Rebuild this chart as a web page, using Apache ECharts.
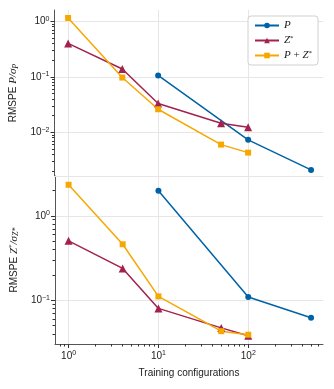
<!DOCTYPE html>
<html lang="en">
  <head>
    <meta charset="UTF-8" />
    <title>RMSPE vs training configurations</title>
    <style>
      html,
      body {
        margin: 0;
        width: 100%;
        height: 100%;
        overflow: hidden;
        background: #fff;
      }
      #main {
        width: 334px;
        height: 389px;
      }
    </style>
  </head>
  <body>
    <div id="main"></div>
    <script src="https://cdn.jsdelivr.net/npm/echarts@6/dist/echarts.min.js"></script>
    <script>
      // training set sizes
      const trainP = [10, 100, 500];
      const trainZ = [1, 4, 10, 50, 100];
      const trainPZ = [1, 4, 10, 50, 100];

      // top panel: RMSPE P / sigma_P
      const topP = [0.106, 0.0073, 0.0021];
      const topZ = [0.4, 0.138, 0.033, 0.0145, 0.0123];
      const topPZ = [1.15, 0.097, 0.026, 0.006, 0.0043];

      // bottom panel: RMSPE Z* / sigma_Z*
      const botP = [1.98, 0.109, 0.062];
      const botZ = [0.505, 0.238, 0.08, 0.047, 0.038];
      const botPZ = [2.33, 0.46, 0.111, 0.043, 0.039];

      const xMajor = [1, 10, 100];
      const xMinor = [0.8, 0.9, 2, 3, 4, 5, 6, 7, 8, 9, 20, 30, 40, 50, 60, 70, 80, 90, 200, 300, 400, 500, 600];
      const topMajor = [0.01, 0.1, 1];
      const topMinor = [0.002, 0.003, 0.004, 0.005, 0.006, 0.007, 0.008, 0.009,
        0.02, 0.03, 0.04, 0.05, 0.06, 0.07, 0.08, 0.09,
        0.2, 0.3, 0.4, 0.5, 0.6, 0.7, 0.8, 0.9];
      const botMajor = [0.1, 1];
      const botMinor = [0.04, 0.05, 0.06, 0.07, 0.08, 0.09,
        0.2, 0.3, 0.4, 0.5, 0.6, 0.7, 0.8, 0.9, 2];

      const names = ["P", "Z*", "P + Z*"];
      const colors = ["#0062a6", "#a3214f", "#f6a800"];
      const symbols = ["circle", "triangle", "rect"];

      const sans = "Liberation Sans";
      const serif = "Liberation Serif";
      const gridColor = "#e6e6e6";
      const axisColor = "#555";

      function pow10(v) {
        const e = Math.round(Math.log10(v));
        return "{b|10}{s|" + (e < 0 ? "\u2212" + -e : e) + "}";
      }
      const powRich = {
        b: { fontSize: 10, fontFamily: sans, color: "#222" },
        s: { fontSize: 7, fontFamily: sans, color: "#222", verticalAlign: "top", padding: [0, 0, 5, 0] },
      };

      function mainY(grid, min, max, ticks, name, nameRich) {
        return {
          type: "log",
          gridIndex: grid,
          position: "left",
          min: min,
          max: max,
          name: name,
          nameLocation: "middle",
          nameGap: 33,
          nameRotate: 90,
          nameTextStyle: { fontSize: 10, fontFamily: sans, color: "#222", rich: nameRich },
          axisLine: { show: true, onZero: false, lineStyle: { color: axisColor, width: 1 } },
          axisTick: { show: true, length: 4, customValues: ticks, lineStyle: { color: "#333" } },
          axisLabel: { customValues: ticks, formatter: pow10, rich: powRich, margin: 5 },
          splitLine: { show: true, lineStyle: { color: gridColor, width: 1 } },
        };
      }
      // second, label-less axis only for the 2..9 minor ticks
      function minorY(grid, min, max, ticks) {
        return {
          type: "log",
          gridIndex: grid,
          position: "left",
          offset: 0,
          min: min,
          max: max,
          axisLine: { show: false, onZero: false },
          axisTick: { show: true, length: 2.5, customValues: ticks, lineStyle: { color: "#333" } },
          axisLabel: { show: false, customValues: ticks },
          splitLine: { show: false },
        };
      }

      const nameRich = {
        t: { fontFamily: sans, fontSize: 10, color: "#222" },
        i: { fontFamily: serif, fontStyle: "italic", fontSize: 11, color: "#222" },
        sub: { fontFamily: serif, fontStyle: "italic", fontSize: 8, color: "#222", verticalAlign: "bottom", padding: [4, 0, 0, 0] },
        sup: { fontFamily: serif, fontSize: 7, color: "#222", verticalAlign: "top" },
      };

      const series = [];
      const sets = [
        [trainP, topP, botP],
        [trainZ, topZ, botZ],
        [trainPZ, topPZ, botPZ],
      ];
      sets.forEach(function (s, k) {
        const style = {
          name: names[k],
          type: "line",
          symbol: symbols[k],
          symbolSize: k === 1 ? 8 : 6,
          lineStyle: { color: colors[k], width: 1.5 },
          itemStyle: { color: colors[k] },
          z: 3,
        };
        series.push(Object.assign({}, style, {
          xAxisIndex: 0,
          yAxisIndex: 0,
          data: s[0].map((x, i) => [x, s[1][i]]),
        }));
        series.push(Object.assign({}, style, {
          xAxisIndex: 1,
          yAxisIndex: 2,
          data: s[0].map((x, i) => [x, s[2][i]]),
        }));
      });

      const option = {
        animation: false,
        backgroundColor: "#fff",
        grid: [
          { left: 53, right: 11, top: 10, height: 166 },
          { left: 53, right: 11, top: 176, height: 168 },
        ],
        legend: {
          data: names,
          orient: "vertical",
          left: 248,
          top: 16,
          padding: [4, 6, 4, 6],
          itemGap: 4,
          itemWidth: 24,
          itemHeight: 7,
          backgroundColor: "#fff",
          borderColor: "#d0d0d0",
          borderWidth: 1,
          borderRadius: 3,
          formatter: function (n) {
            if (n === "P") return "{i|P}";
            if (n === "Z*") return "{i|Z}{s|*}";
            return "{i|P} + {i|Z}{s|*}";
          },
          textStyle: {
            fontSize: 11,
            fontFamily: serif,
            color: "#222",
            rich: {
              i: { fontFamily: serif, fontStyle: "italic", fontSize: 11, color: "#222" },
              s: { fontFamily: serif, fontSize: 7, color: "#222", verticalAlign: "top" },
            },
          },
        },
        xAxis: [
          {
            type: "log",
            gridIndex: 0,
            position: "bottom",
            min: 0.706,
            max: 679,
            axisLine: { show: true, onZero: false, lineStyle: { color: gridColor } },
            axisTick: { show: false, customValues: xMajor },
            axisLabel: { show: false, customValues: xMajor },
            splitLine: { show: true, lineStyle: { color: gridColor, width: 1 } },
          },
          {
            type: "log",
            gridIndex: 1,
            position: "bottom",
            min: 0.706,
            max: 679,
            name: "Training configurations",
            nameLocation: "middle",
            nameGap: 24,
            nameTextStyle: { fontSize: 10, fontFamily: sans, color: "#222" },
            axisLine: { show: true, onZero: false, lineStyle: { color: axisColor, width: 1 } },
            axisTick: { show: true, length: 4, customValues: xMajor, lineStyle: { color: "#333" } },
            axisLabel: { customValues: xMajor, formatter: pow10, rich: powRich, margin: 6 },
            splitLine: { show: true, lineStyle: { color: gridColor, width: 1 } },
          },
          {
            type: "log",
            gridIndex: 1,
            position: "bottom",
            offset: 0,
            min: 0.706,
            max: 679,
            axisLine: { show: false, onZero: false },
            axisTick: { show: true, length: 2.5, customValues: xMinor, lineStyle: { color: "#333" } },
            axisLabel: { show: false, customValues: xMinor },
            splitLine: { show: false },
          },
        ],
        yAxis: [
          mainY(0, 0.00163, 1.6, topMajor, "{t|RMSPE }{i|P/\u03c3}{sub|P}", nameRich),
          minorY(0, 0.00163, 1.6, topMinor),
          mainY(1, 0.0303, 2.96, botMajor, "{t|RMSPE }{i|Z}{sup|*}{i|/\u03c3}{sub|Z*}", nameRich),
          minorY(1, 0.0303, 2.96, botMinor),
        ],
        series: series,
      };

      const myChart = echarts.init(document.getElementById("main"));
      myChart.setOption(option);
    </script>
  </body>
</html>
